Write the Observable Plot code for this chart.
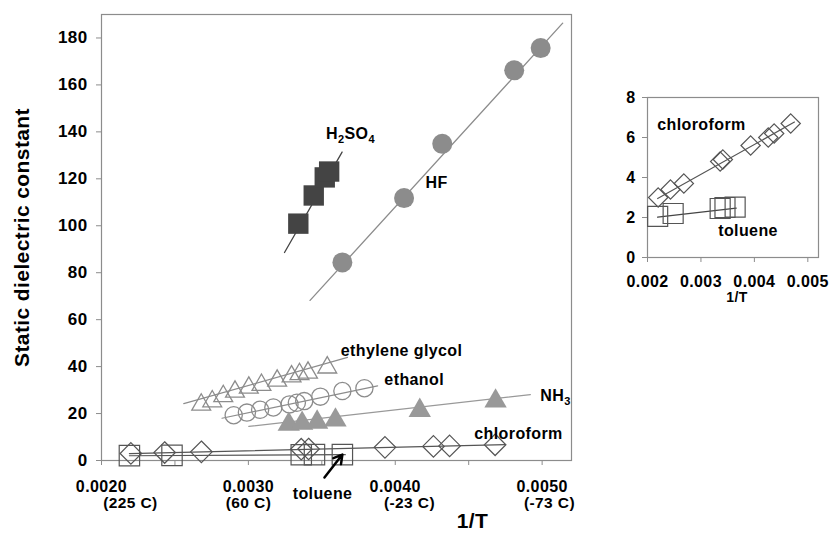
<!DOCTYPE html>
<html><head><meta charset="utf-8">
<script src="https://cdn.jsdelivr.net/npm/d3@7"></script>
<script src="https://cdn.jsdelivr.net/npm/@observablehq/plot@0.6"></script>
<style>
body{margin:0;background:#fff;}
#wrap{position:relative;width:829px;height:541px;overflow:hidden;background:#fff;}
#main{position:absolute;left:0;top:0;}
#inset{position:absolute;left:590px;top:80px;}
</style></head><body>
<div id="wrap"><div id="main"></div><div id="inset"></div></div>
<script>
// ---------- data ----------
const hfX = [0.00364, 0.00406, 0.00432, 0.00481, 0.00499];
const hfY = [84.4, 111.8, 134.9, 166.2, 175.7];
const hfFitX = [0.00342, 0.00514];
const hfFitY = [68.2, 186.3];

const h2so4X = [0.00334, 0.003445, 0.00352, 0.00355];
const h2so4Y = [100.9, 112.9, 120.6, 123.1];
const h2so4FitX = [0.003246, 0.003638];
const h2so4FitY = [88.6, 131.4];

const glycolX = [0.002679, 0.002754, 0.002829, 0.002909, 0.003003, 0.003089, 0.003196, 0.003294, 0.003348, 0.003406, 0.003537];
const glycolY = [23.8, 25.2, 27.4, 29.3, 31.0, 32.2, 34.0, 35.8, 36.8, 37.4, 39.6];
const glycolFitX = [0.00256, 0.003675];
const glycolFitY = [24.2, 43.9];

const ethanolX = [0.0029, 0.00299, 0.00308, 0.00317, 0.00328, 0.00333, 0.00338, 0.00349, 0.00364, 0.00379];
const ethanolY = [19.3, 20.4, 21.6, 22.6, 23.9, 24.6, 25.3, 27.2, 29.6, 30.8];
const ethanolFitX = [0.00282, 0.00388];
const ethanolFitY = [18.0, 31.8];

const nh3X = [0.003275, 0.003366, 0.003468, 0.003593, 0.004167, 0.004683];
const nh3Y = [15.4, 15.8, 16.3, 17.2, 21.3, 25.3];
const nh3FitX = [0.003003, 0.00492];
const nh3FitY = [14.5, 28.1];

const chloroformX = [0.00220, 0.00243, 0.00268, 0.00336, 0.00341, 0.00393, 0.00426, 0.00437, 0.00468];
const chloroformY = [3.0, 3.4, 3.7, 4.8, 4.9, 5.6, 6.0, 6.2, 6.7];
const chloroformFitX = [0.00219, 0.00475];
const chloroformFitY = [2.95, 6.77];

const tolueneX = [0.00219, 0.00248, 0.00336, 0.00345, 0.00364];
const tolueneY = [2.06, 2.2, 2.45, 2.5, 2.52];
const tolueneFitX = [0.00219, 0.00366];
const tolueneFitY = [2.02, 2.47];

const yTicks = [0, 20, 40, 60, 80, 100, 120, 140, 160, 180];
const xMajorTicks = [0.002, 0.003, 0.004, 0.005];
const xMinorTicks = [0.002, 0.0025, 0.003, 0.0035, 0.004, 0.0045, 0.005];
const tempLabels = ["(225 C)", "(60 C)", "(-23 C)", "(-73 C)"];
const tempLabelPos = [0.002197, 0.003001, 0.004097, 0.00505];
const insetYTicks = [0, 2, 4, 6, 8];
const insetXTicks = [0.002, 0.003, 0.004, 0.005];

// annotation positions (data units)
const mainLabels = [
  {text: "H2SO4", x: 0.003695, y: 139.3},
  {text: "HF", x: 0.004281, y: 118.4},
  {text: "ethylene glycol", x: 0.004043, y: 46.9},
  {text: "ethanol", x: 0.004129, y: 34.4},
  {text: "NH3", x: 0.005091, y: 27.7},
  {text: "chloroform", x: 0.004839, y: 11.5},
  {text: "toluene", x: 0.003505, y: -14.1}
];
const insetLabels = [
  {text: "chloroform", x: 0.00301, y: 6.62},
  {text: "toluene", x: 0.003881, y: 1.31}
];
const tolueneArrow = [{x1: 0.003518, y1: -7.2, x2: tolueneX[4], y2: tolueneY[4]}];

// ---------- helpers ----------
const pts = (xs, ys) => xs.map((x, i) => ({x, y: ys[i]}));
const GRID = "#8c8c8c";
const baseStyle = {fontFamily: "'Liberation Sans', Arial, sans-serif", fontWeight: "bold", fontSize: "16px", color: "black", background: "transparent", overflow: "visible", letterSpacing: "0.4px"};

const main = Plot.plot({
  width: 590, height: 541,
  marginLeft: 101, marginRight: 19, marginTop: 14, marginBottom: 81,
  x: {domain: [0.002, 0.0052]},
  y: {domain: [0, 190]},
  style: baseStyle,
  marks: [
    Plot.frame({stroke: GRID, strokeWidth: 1.2}),
    Plot.axisY({ticks: yTicks, tickSize: 5, tickPadding: 9, stroke: GRID, fontSize: 17, label: null}),
    Plot.axisX({ticks: xMinorTicks, tickSize: 5, stroke: GRID, tickFormat: () => "", label: null}),
    Plot.axisX({ticks: xMajorTicks, tickSize: 0, tickPadding: 20, tickFormat: d3.format(".4f"), fontSize: 16, label: null}),
    Plot.text(tempLabelPos, {x: d => d, text: (d, i) => tempLabels[i], frameAnchor: "bottom", lineAnchor: "top", dy: 36, fontSize: 15.5}),
    Plot.text(["Static dielectric constant"], {frameAnchor: "left", textAnchor: "middle", rotate: -90, dx: -79, fontSize: 21}),
    Plot.text(["1/T"], {frameAnchor: "bottom", dx: 136, dy: 67, fontSize: 21}),
    // fit lines
    Plot.line(pts(hfFitX, hfFitY), {x: "x", y: "y", stroke: GRID, strokeWidth: 1.3}),
    Plot.line(pts(h2so4FitX, h2so4FitY), {x: "x", y: "y", stroke: "#444", strokeWidth: 1.3}),
    Plot.line(pts(glycolFitX, glycolFitY), {x: "x", y: "y", stroke: GRID, strokeWidth: 1.2}),
    Plot.line(pts(ethanolFitX, ethanolFitY), {x: "x", y: "y", stroke: GRID, strokeWidth: 1.2}),
    Plot.line(pts(nh3FitX, nh3FitY), {x: "x", y: "y", stroke: "#999", strokeWidth: 1.2}),
    Plot.line(pts(chloroformFitX, chloroformFitY), {x: "x", y: "y", stroke: "#555", strokeWidth: 1.2}),
    Plot.line(pts(tolueneFitX, tolueneFitY), {x: "x", y: "y", stroke: "#555", strokeWidth: 1.2}),
    // markers
    Plot.dot(pts(hfX, hfY), {x: "x", y: "y", r: 10, fill: GRID}),
    Plot.dot(pts(h2so4X, h2so4Y), {x: "x", y: "y", symbol: "square", r: 11.5, fill: "#444"}),
    Plot.dot(pts(glycolX, glycolY), {x: "x", y: "y", symbol: "triangle2", r: 9, stroke: GRID, strokeWidth: 1.3, fill: "none"}),
    Plot.dot(pts(ethanolX, ethanolY), {x: "x", y: "y", r: 8.6, stroke: GRID, strokeWidth: 1.3, fill: "none"}),
    Plot.dot(pts(nh3X, nh3Y), {x: "x", y: "y", symbol: "triangle", r: 8.3, fill: "#999"}),
    Plot.dot(pts(chloroformX, chloroformY), {x: "x", y: "y", symbol: "diamond2", r: 9.7, stroke: "#555", strokeWidth: 1.2, fill: "none"}),
    Plot.dot(pts(tolueneX, tolueneY), {x: "x", y: "y", symbol: "square", r: 11.5, stroke: "#555", strokeWidth: 1.2, fill: "none"}),
    // labels
    Plot.text(mainLabels, {x: "x", y: "y", text: "text", fontSize: 16}),
    Plot.arrow(tolueneArrow, {x1: "x1", y1: "y1", x2: "x2", y2: "y2", stroke: "black", strokeWidth: 2.5, headLength: 9, headAngle: 60})
  ]
});

const inset = Plot.plot({
  width: 239, height: 230,
  marginLeft: 57, marginRight: 11, marginTop: 17, marginBottom: 53,
  x: {domain: [0.002, 0.0052]},
  y: {domain: [0, 8]},
  style: baseStyle,
  marks: [
    Plot.frame({stroke: GRID, strokeWidth: 1.2}),
    Plot.axisY({ticks: insetYTicks, tickSize: 5, tickPadding: 7, stroke: GRID, fontSize: 16, label: null}),
    Plot.axisX({ticks: insetXTicks, tickSize: 5, tickPadding: 13, stroke: GRID, tickFormat: d3.format(".3f"), fontSize: 16, label: null}),
    Plot.text(["1/T"], {frameAnchor: "bottom", dy: 44, dx: 4, fontSize: 14}),
    Plot.line(pts(chloroformFitX, chloroformFitY), {x: "x", y: "y", stroke: "#555", strokeWidth: 1.2}),
    Plot.line(pts(tolueneFitX, tolueneFitY), {x: "x", y: "y", stroke: "#444", strokeWidth: 1.4}),
    Plot.dot(pts(chloroformX, chloroformY), {x: "x", y: "y", symbol: "diamond2", r: 8.7, stroke: "#555", strokeWidth: 1.2, fill: "none"}),
    Plot.dot(pts(tolueneX, tolueneY), {x: "x", y: "y", symbol: "square", r: 11.3, stroke: "#555", strokeWidth: 1.2, fill: "none"}),
    Plot.text(insetLabels, {x: "x", y: "y", text: "text", fontSize: 16})
  ]
});

document.getElementById("main").appendChild(main);
document.getElementById("inset").appendChild(inset);

// chemical subscripts
const subs = {"H2SO4": [["H", 0], ["2", 1], ["SO", 0], ["4", 1]], "NH3": [["NH", 0], ["3", 1]]};
d3.select(main).selectAll("text").each(function() {
  const t = this.textContent;
  if (!(t in subs)) return;
  const el = d3.select(this);
  el.text(null);
  let prev = 0;
  for (const [s, isSub] of subs[t]) {
    const sp = el.append("tspan").text(s);
    const shift = isSub ? 4 : 0;
    sp.attr("dy", shift - prev);
    if (isSub) sp.attr("font-size", 11);
    prev = shift;
  }
});
</script>
</body></html>
